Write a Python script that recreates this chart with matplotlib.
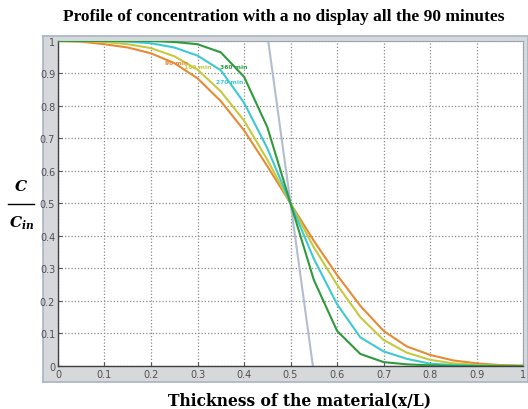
import matplotlib
matplotlib.use("Agg")
import matplotlib.pyplot as plt
from matplotlib.lines import Line2D

plt.rcParams["mathtext.fontset"] = "custom"
plt.rcParams["mathtext.it"] = "DejaVu Serif:italic:bold"
plt.rcParams["mathtext.rm"] = "DejaVu Serif:bold"

# ---- data ----
x = [0.00, 0.05, 0.10, 0.15, 0.20, 0.25, 0.30, 0.35, 0.40, 0.45, 0.50,
     0.55, 0.60, 0.65, 0.70, 0.75, 0.80, 0.85, 0.90, 0.95, 1.00]
c_90 = [1.000, 0.998, 0.990, 0.980, 0.962, 0.932, 0.885, 0.815, 0.725, 0.615, 0.500,
        0.385, 0.280, 0.185, 0.108, 0.060, 0.034, 0.017, 0.008, 0.003, 0.001]
c_180 = [1.000, 1.000, 0.997, 0.990, 0.978, 0.953, 0.912, 0.845, 0.755, 0.635, 0.500,
         0.365, 0.250, 0.150, 0.080, 0.041, 0.019, 0.008, 0.003, 0.001, 0.000]
c_270 = [1.000, 1.000, 1.000, 0.998, 0.993, 0.980, 0.955, 0.910, 0.810, 0.670, 0.500,
         0.330, 0.190, 0.088, 0.045, 0.022, 0.007, 0.003, 0.001, 0.000, 0.000]
c_360 = [1.000, 1.000, 1.000, 1.000, 1.000, 0.997, 0.990, 0.965, 0.890, 0.735, 0.500,
         0.265, 0.108, 0.037, 0.012, 0.005, 0.002, 0.000, 0.000, 0.000, 0.000]
ref_x = [0.452, 0.548]
ref_y = [1.0, 0.0]
labels = ["90 min", "180 min", "270 min", "360 min"]
label_pos = [(0.254, 0.935), (0.300, 0.922), (0.370, 0.874), (0.378, 0.922)]
colors = ["#e68a35", "#c6c93c", "#3ec9d2", "#2f9a3c"]
ticks = [0.0, 0.1, 0.2, 0.3, 0.4, 0.5, 0.6, 0.7, 0.8, 0.9, 1.0]
tick_labels = ["0", "0.1", "0.2", "0.3", "0.4", "0.5", "0.6", "0.7", "0.8", "0.9", "1"]

fig = plt.figure(figsize=(5.28, 4.10), dpi=100)
fig.patch.set_facecolor("white")

# gray MATLAB-like panel (background axes)
bg = fig.add_axes([0.0814, 0.0659, 0.9186, 0.8439], zorder=0)
bg.set_facecolor("#d6d8dc")
bg.set_xticks([])
bg.set_yticks([])
for sp in bg.spines.values():
    sp.set_color("#a8b3c4")
    sp.set_linewidth(1.2)

ax = fig.add_axes([0.1098, 0.1049, 0.881, 0.7927], zorder=1)
ax.set_facecolor("white")

series = [c_90, c_180, c_270, c_360]
for s, col in zip(series, colors):
    ax.plot(x, s, color=col, linewidth=1.5, zorder=3)
ax.plot(ref_x, ref_y, color="#b4bccf", linewidth=1.5, zorder=2)

for lab, (lx, ly), col in zip(labels, label_pos, colors):
    ax.text(lx, ly, lab, color=col, fontsize=4.3, fontweight="bold",
            ha="center", va="center", zorder=4)

ax.set_xlim(0, 1)
ax.set_ylim(0, 1)
ax.set_xticks(ticks)
ax.set_xticklabels(tick_labels)
ax.set_yticks(ticks)
ax.set_yticklabels(tick_labels)
ax.tick_params(direction="in", length=3, width=0.8, colors="#555555",
               labelsize=7, labelcolor="#505050", pad=2)
ax.tick_params(top=False, right=False)
ax.grid(True, color="#8a8a8a", linestyle=(0, (1, 1.6)), linewidth=0.9)
for side in ["left", "bottom"]:
    ax.spines[side].set_color("#404040")
    ax.spines[side].set_linewidth(1.0)
for side in ["top", "right"]:
    ax.spines[side].set_color("#9aa3b0")
    ax.spines[side].set_linewidth(0.8)

fig.text(0.537, 0.958, "Profile of concentration with a no display all the 90 minutes",
         family="Liberation Serif", fontweight="bold", fontsize=12.5,
         ha="center", va="center")
fig.text(0.568, 0.022, "Thickness of the material(x/L)",
         family="DejaVu Serif", fontweight="bold", fontsize=11.2,
         ha="center", va="center")

# y label as a fraction
fig.text(0.040, 0.545, r"$C$", fontsize=11, ha="center", va="center")
fig.lines.append(Line2D([0.016, 0.064], [0.500, 0.500], transform=fig.transFigure,
                        color="black", linewidth=1.0))
fig.text(0.040, 0.455, r"$C_{in}$", fontsize=11, ha="center", va="center")

fig.savefig("out.png", dpi=100)
